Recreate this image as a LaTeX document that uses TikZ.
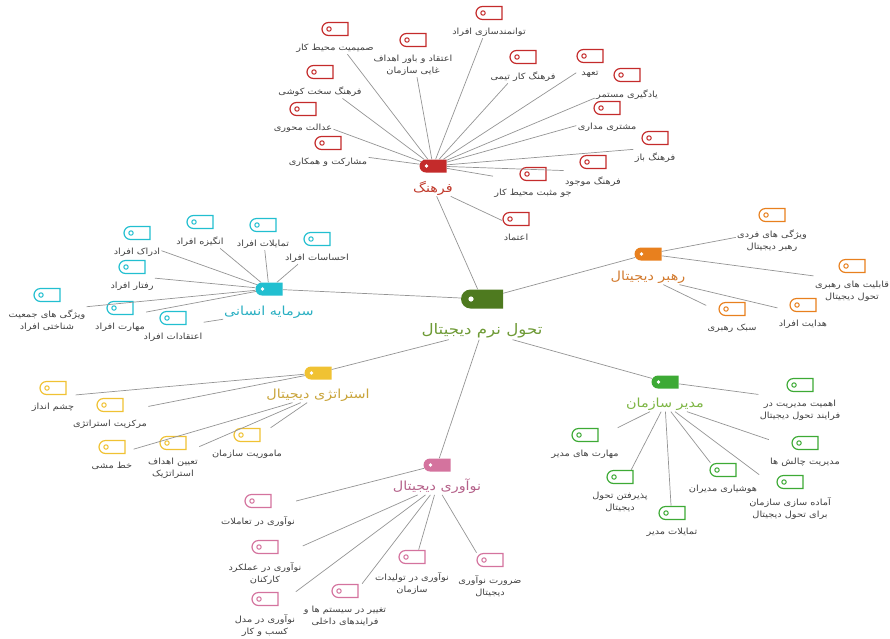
\documentclass[tikz,border=0pt]{standalone}
\usepackage{fontspec}
\newfontfamily\fa[Script=Arabic,FakeStretch=1.15]{DejaVu Sans}
\TeXXeTstate=1
\usetikzlibrary{shapes.misc,positioning,fit}
\definecolor{rootc}{HTML}{4E7A1F}
\definecolor{rootT}{HTML}{6E9A36}
\definecolor{cul}{HTML}{C42B2B}
\definecolor{culT}{HTML}{C0392B}
\definecolor{hum}{HTML}{22BFD0}
\definecolor{humT}{HTML}{2AAFC2}
\definecolor{lea}{HTML}{E8801E}
\definecolor{leaT}{HTML}{D27A2E}
\definecolor{str}{HTML}{F0C233}
\definecolor{strT}{HTML}{C9A43A}
\definecolor{man}{HTML}{3DAA35}
\definecolor{manT}{HTML}{7DB544}
\definecolor{inn}{HTML}{D4739E}
\definecolor{innT}{HTML}{B5628A}
\tikzstyle{link} = [draw=black!42,line width=0.7pt]
\tikzstyle{leaftext} = [font=\fa\fontsize{8.5}{12}\selectfont,text=black!75,align=center,inner sep=1pt]
\tikzstyle{grp} = [inner sep=0pt]
\tikzset{
  leafbox/.style={rounded rectangle,rounded rectangle right arc=none,draw=#1,fill=white,line width=1.2pt,
    minimum width=26pt,minimum height=13pt,inner sep=0pt,
    path picture={\draw[#1,line width=1pt] ([xshift=7pt]path picture bounding box.west) circle (2.2pt);}},
  hubbox/.style={rounded rectangle,rounded rectangle right arc=none,fill=#1,
    minimum width=27pt,minimum height=13pt,inner sep=0pt,
    path picture={\fill[white] ([xshift=7pt]path picture bounding box.west) circle (1.8pt);}},
  hubtext/.style={font=\fa\fontsize{12.5}{14}\selectfont,text=#1,inner sep=1pt},
  rootbox/.style={rounded rectangle,rounded rectangle right arc=none,fill=rootc,
    minimum width=42pt,minimum height=19pt,inner sep=0pt,
    path picture={\fill[white] ([xshift=10pt]path picture bounding box.west) circle (2.6pt);}}
}
\def\rl#1{\beginR #1\endR}
% leaf: name, icon position, colour, text
\newcommand{\leaf}[4]{%
  \node[leafbox=#3] (#1i) at (#2) {};
  \node[leaftext,below=7pt of #1i] (#1t) {#4};
  \node[grp,fit=(#1i)(#1t)] (#1) {};}

\begin{document}
\begin{tikzpicture}[x=1pt,y=-1pt]
\useasboundingbox (0,0) rectangle (890,638);

% root
\node[rootbox] (root) at (482,299) {};
\node[hubtext=rootT,font=\fa\fontsize{14.5}{16}\selectfont,below=14pt of root] (roott) {\rl{تحول نرم دیجیتال}};

% hubs
\node[hubbox=cul] (culture) at (433,166) {};
\node[hubtext=culT,below=7pt of culture] (culturet) {\rl{فرهنگ}};
\node[hubbox=hum] (human) at (269,289) {};
\node[hubtext=humT,below=9pt of human] (humant) {\rl{سرمایه انسانی}};
\node[hubbox=lea] (leader) at (648,254) {};
\node[hubtext=leaT,below=9pt of leader] (leadert) {\rl{رهبر دیجیتال}};
\node[hubbox=str] (strategy) at (318,373) {};
\node[hubtext=strT,below=8pt of strategy] (strategyt) {\rl{استراتژی دیجیتال}};
\node[hubbox=man] (manager) at (665,382) {};
\node[hubtext=manT,below=8pt of manager] (managert) {\rl{مدیر سازمان}};
\node[hubbox=inn] (innov) at (437,465) {};
\node[hubtext=innT,below=6pt of innov] (innovt) {\rl{نوآوری دیجیتال}};

% culture
\leaf{c1}{489,13}{cul}{\rl{توانمندسازی افراد}}
\leaf{c2}{335,29}{cul}{\rl{صمیمیت محیط کار}}
\leaf{c3}{413,40}{cul}{\rl{اعتقاد و باور اهداف}\\\rl{غایی سازمان}}
\leaf{c4}{320,72}{cul}{\rl{فرهنگ سخت کوشی}}
\leaf{c5}{523,57}{cul}{\rl{فرهنگ کار تیمی}}
\leaf{c6}{590,56}{cul}{\rl{تعهد}}
\leaf{c7}{627,75}{cul}{\rl{یادگیری مستمر}}
\leaf{c8}{607,108}{cul}{\rl{مشتری مداری}}
\leaf{c9}{303,109}{cul}{\rl{عدالت محوری}}
\leaf{c10}{655,138}{cul}{\rl{فرهنگ باز}}
\leaf{c11}{328,143}{cul}{\rl{مشارکت و همکاری}}
\leaf{c12}{593,162}{cul}{\rl{فرهنگ موجود}}
\leaf{c13}{533,174}{cul}{\rl{جو مثبت محیط کار}}
\leaf{c14}{516,219}{cul}{\rl{اعتماد}}

% human capital
\leaf{h1}{137,233}{hum}{\rl{ادراک افراد}}
\leaf{h2}{200,222}{hum}{\rl{انگیزه افراد}}
\leaf{h3}{263,225}{hum}{\rl{تمایلات افراد}}
\leaf{h4}{317,239}{hum}{\rl{احساسات افراد}}
\leaf{h5}{132,267}{hum}{\rl{رفتار افراد}}
\leaf{h6}{47,295}{hum}{\rl{ویژگی های جمعیت}\\\rl{شناختی افراد}}
\leaf{h7}{120,308}{hum}{\rl{مهارت افراد}}
\leaf{h8}{173,318}{hum}{\rl{اعتقادات افراد}}

% leader
\leaf{l1}{772,215}{lea}{\rl{ویژگی های فردی}\\\rl{رهبر دیجیتال}}
\leaf{l2}{852,266}{lea}{\rl{قابلیت های رهبری}\\\rl{تحول دیجیتال}}
\leaf{l3}{803,305}{lea}{\rl{هدایت افراد}}
\leaf{l4}{732,309}{lea}{\rl{سبک رهبری}}

% strategy
\leaf{s1}{53,388}{str}{\rl{چشم انداز}}
\leaf{s2}{110,405}{str}{\rl{مرکزیت استراتژی}}
\leaf{s3}{112,447}{str}{\rl{خط مشی}}
\leaf{s4}{173,443}{str}{\rl{تعیین اهداف}\\\rl{استراتژیک}}
\leaf{s5}{247,435}{str}{\rl{ماموریت سازمان}}

% manager
\leaf{m1}{800,385}{man}{\rl{اهمیت مدیریت در}\\\rl{فرایند تحول دیجیتال}}
\leaf{m2}{805,443}{man}{\rl{مدیریت چالش ها}}
\leaf{m3}{585,435}{man}{\rl{مهارت های مدیر}}
\leaf{m4}{620,477}{man}{\rl{پذیرفتن تحول}\\\rl{دیجیتال}}
\leaf{m5}{672,513}{man}{\rl{تمایلات مدیر}}
\leaf{m6}{723,470}{man}{\rl{هوشیاری مدیران}}
\leaf{m7}{790,482}{man}{\rl{آماده سازی سازمان}\\\rl{برای تحول دیجیتال}}

% innovation
\leaf{n1}{258,501}{inn}{\rl{نوآوری در تعاملات}}
\leaf{n2}{265,547}{inn}{\rl{نوآوری در عملکرد}\\\rl{کارکنان}}
\leaf{n3}{265,599}{inn}{\rl{نوآوری در مدل}\\\rl{کسب و کار}}
\leaf{n4}{345,591}{inn}{\rl{تغییر در سیستم ها و}\\\rl{فرایندهای داخلی}}
\leaf{n5}{412,557}{inn}{\rl{نوآوری در تولیدات}\\\rl{سازمان}}
\leaf{n6}{490,560}{inn}{\rl{ضرورت نوآوری}\\\rl{دیجیتال}}

% root links
\draw[link] (root) -- (culturet);
\draw[link] (root) -- (human);
\draw[link] (root) -- (leader);
\draw[link] (roott) -- (strategy);
\draw[link] (roott) -- (innov);
\draw[link] (roott) -- (manager);

% culture links
\draw[link] (culture) -- (c1);
\draw[link] (culture) -- (c2);
\draw[link] (culture) -- (c3);
\draw[link] (culture) -- (c4);
\draw[link] (culture) -- (c5);
\draw[link] (culture) -- (c6);
\draw[link] (culture) -- (c7);
\draw[link] (culture) -- (c8);
\draw[link] (culture) -- (c9);
\draw[link] (culture) -- (c10);
\draw[link] (culture) -- (c11);
\draw[link] (culture) -- (c12);
\draw[link] (culture) -- (c13);
\draw[link] (culturet) -- (c14);

% human links
\draw[link] (human) -- (h1);
\draw[link] (human) -- (h2);
\draw[link] (human) -- (h3);
\draw[link] (human) -- (h4);
\draw[link] (human) -- (h5);
\draw[link] (human) -- (h6);
\draw[link] (human) -- (h7);
\draw[link] (humant) -- (h8);

% leader links
\draw[link] (leader) -- (l1);
\draw[link] (leader) -- (l2);
\draw[link] (leadert) -- (l3);
\draw[link] (leadert) -- (l4);

% strategy links
\draw[link] (strategy) -- (s1);
\draw[link] (strategy) -- (s2);
\draw[link] (strategyt) -- (s3);
\draw[link] (strategyt) -- (s4);
\draw[link] (strategyt) -- (s5);

% manager links
\draw[link] (manager) -- (m1);
\draw[link] (managert) -- (m2);
\draw[link] (managert) -- (m3);
\draw[link] (managert) -- (m4);
\draw[link] (managert) -- (m5);
\draw[link] (managert) -- (m6);
\draw[link] (managert) -- (m7);

% innovation links
\draw[link] (innov) -- (n1);
\draw[link] (innovt) -- (n2);
\draw[link] (innovt) -- (n3);
\draw[link] (innovt) -- (n4);
\draw[link] (innovt) -- (n5);
\draw[link] (innovt) -- (n6);
\end{tikzpicture}
\end{document}
